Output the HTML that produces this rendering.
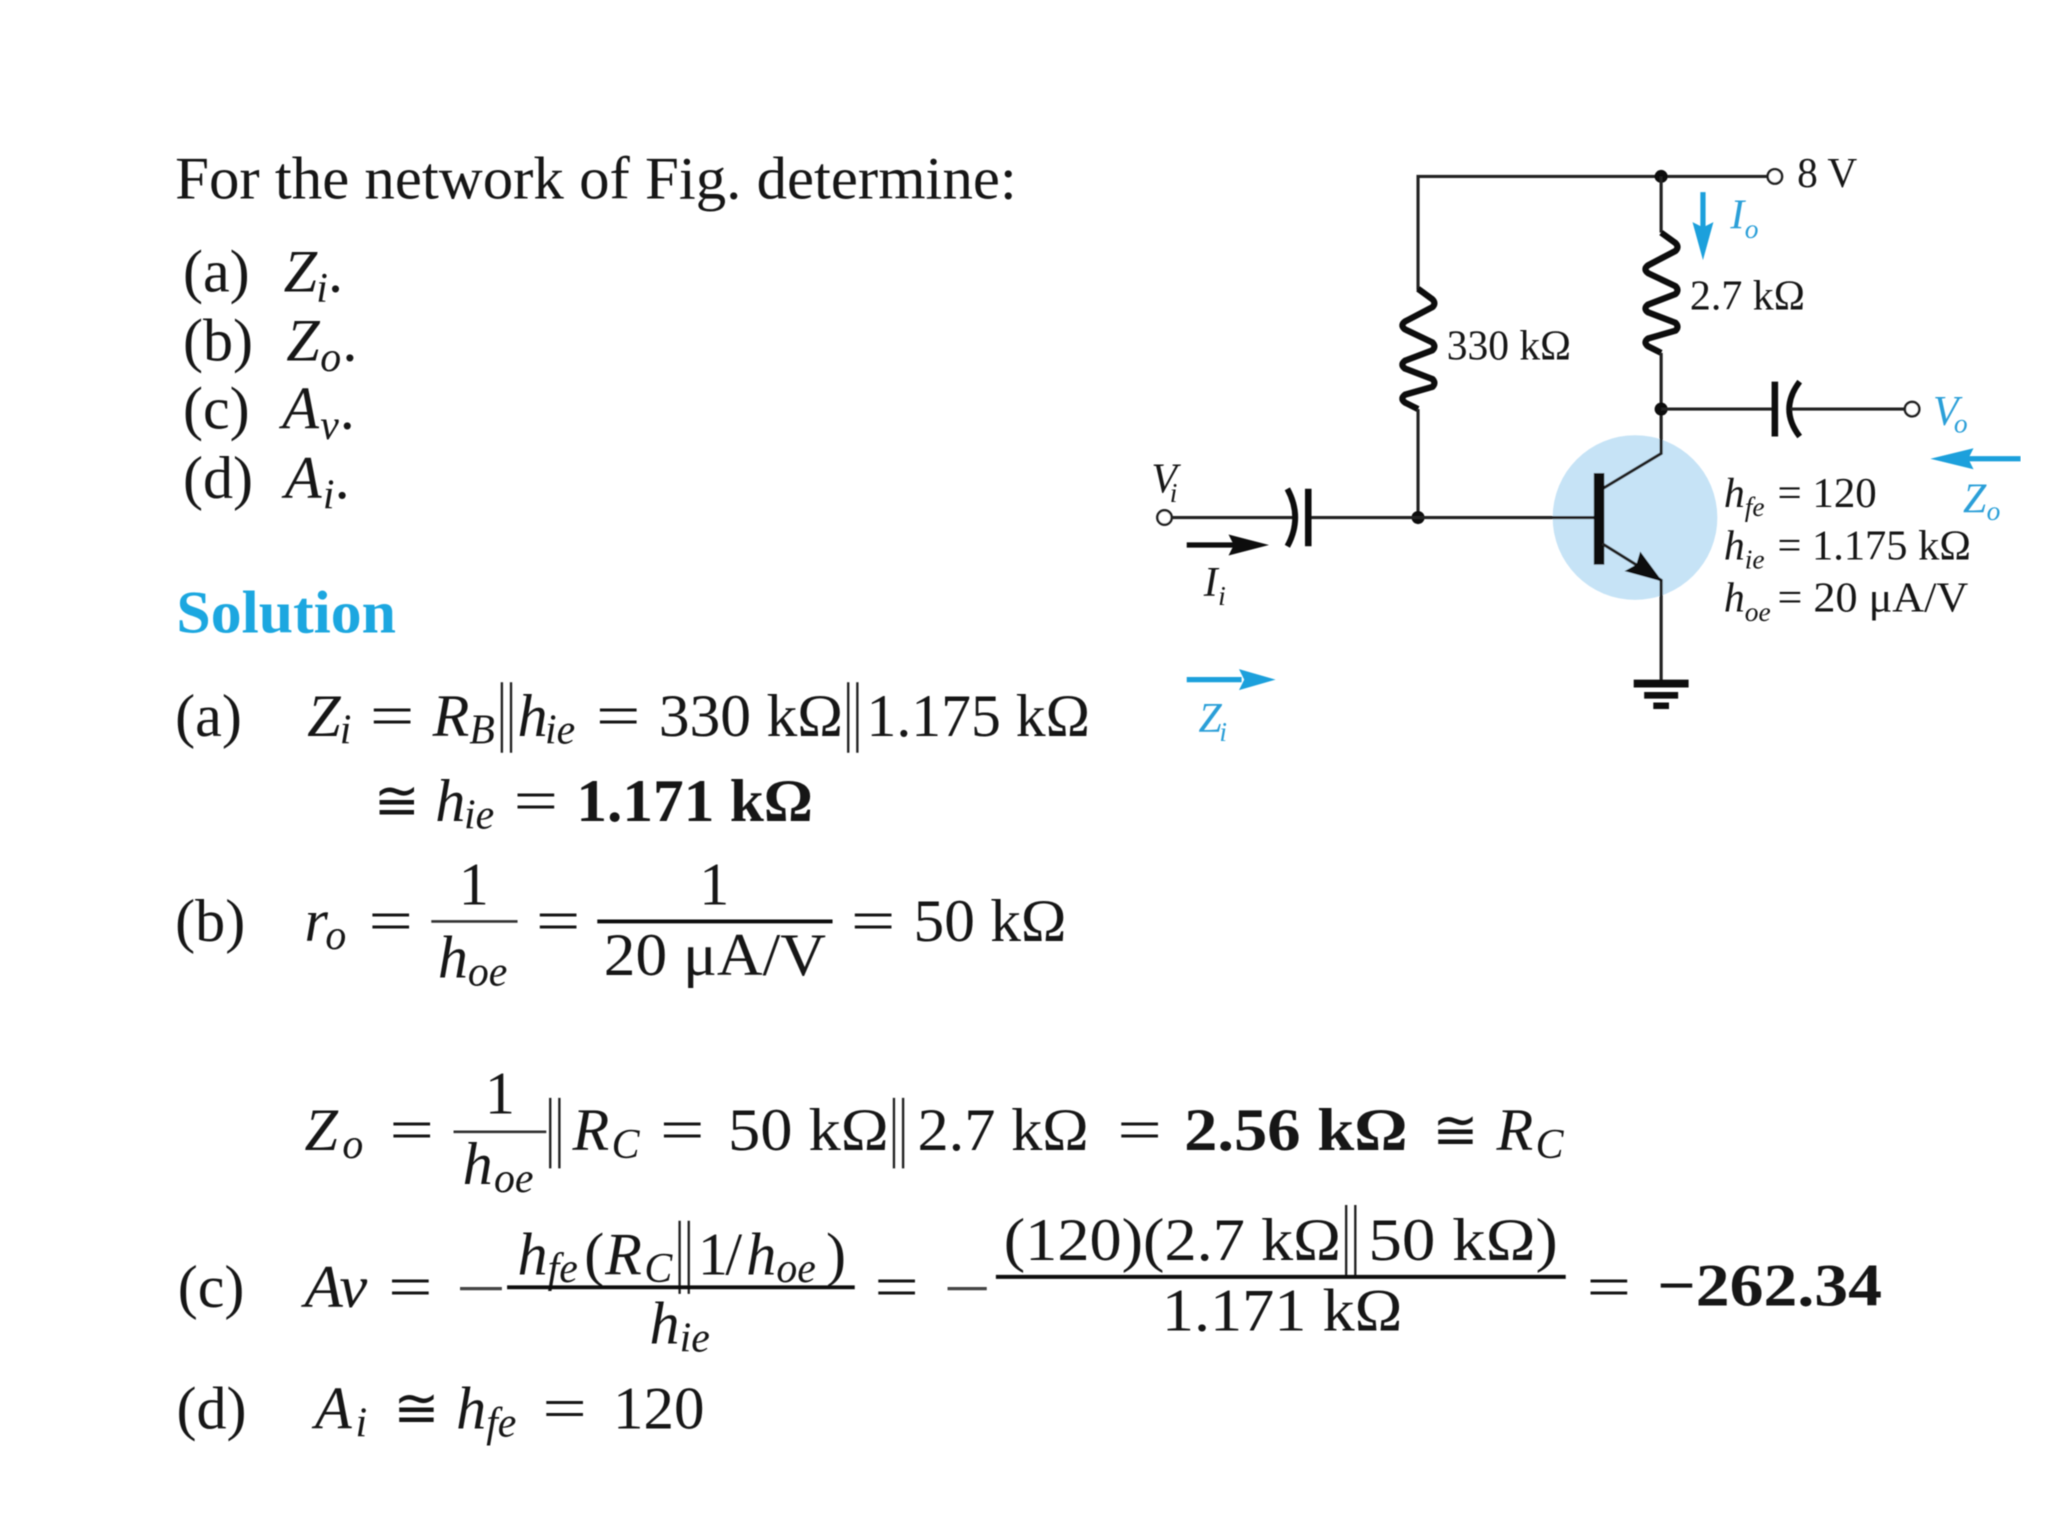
<!DOCTYPE html>
<html>
<head>
<meta charset="utf-8">
<style>
html,body{margin:0;padding:0;background:#fff}
svg{display:block}
text{font-family:"Liberation Serif",serif;fill:#141414}
.i{font-style:italic}
.b{font-weight:bold}
.m{font-size:46px;transform:translateY(-2px)}
.s{font-size:32px;transform:translateY(-2px)}
.c{font-size:32px}
.cs{font-size:21px}
.cy{fill:#2a9fd8}
.w{stroke:#222;stroke-width:2.4;fill:none}
.p{stroke:#222;stroke-width:1.8;fill:none}
.g{font-size:42px;transform:translateY(-2px)}
</style>
</head>
<body>
<svg xmlns="http://www.w3.org/2000/svg" width="2048" height="1536" viewBox="0 0 1567 1175.250">
<defs><filter id="bl" x="0" y="0" width="100%" height="100%"><feGaussianBlur stdDeviation="0.5"/></filter></defs>
<rect width="1567" height="1176" fill="#fff"/>
<g filter="url(#bl)">

<!-- Problem -->
<text class="m" x="134" y="154" textLength="644" lengthAdjust="spacingAndGlyphs">For the network of Fig. determine:</text>
<text class="m" x="140" y="225">(a)</text><text class="m i" x="217" y="225">Z</text><text class="s i" x="242" y="233">i</text><text class="m" x="251" y="225">.</text>
<text class="m" x="140" y="278">(b)</text><text class="m i" x="219" y="278">Z</text><text class="s i" x="245" y="286">o</text><text class="m" x="262" y="278">.</text>
<text class="m" x="140" y="330">(c)</text><text class="m i" x="216" y="330">A</text><text class="s i" x="245" y="338">v</text><text class="m" x="260" y="330">.</text>
<text class="m" x="140" y="383">(d)</text><text class="m i" x="218" y="383">A</text><text class="s i" x="247" y="391">i</text><text class="m" x="256" y="383">.</text>

<text class="m b" x="135" y="486" textLength="168" lengthAdjust="spacingAndGlyphs" style="fill:#1ba7e0">Solution</text>

<!-- (a) -->
<text class="m" x="134" y="565">(a)</text>
<text class="m i" x="235" y="565">Z</text><text class="s i" x="260" y="571">i</text>
<text class="m" x="283" y="565" textLength="34" lengthAdjust="spacingAndGlyphs">=</text>
<text class="m i" x="331" y="565">R</text><text class="s i" x="359" y="571">B</text>
<path class="p" d="M384 522V576M391 522V576"/>
<text class="m i" x="396" y="565">h</text><text class="s i" x="417" y="571">ie</text>
<text class="m" x="456" y="565" textLength="34" lengthAdjust="spacingAndGlyphs">=</text>
<text class="m" x="504" y="565" textLength="141" lengthAdjust="spacingAndGlyphs">330 kΩ</text>
<path class="p" d="M649 522V576M656 522V576"/>
<text class="m" x="663" y="565" textLength="171" lengthAdjust="spacingAndGlyphs">1.175 kΩ</text>

<text class="g" x="286" y="629">≅</text>
<text class="m i" x="333" y="630">h</text><text class="s i" x="355" y="636">ie</text>
<text class="m" x="393" y="630" textLength="34" lengthAdjust="spacingAndGlyphs">=</text>
<text class="m b" x="441" y="630" textLength="181" lengthAdjust="spacingAndGlyphs">1.171 kΩ</text>

<!-- (b) -->
<text class="m" x="134" y="722">(b)</text>
<text class="m i" x="233" y="722">r</text><text class="s i" x="249" y="728">o</text>
<text class="m" x="282" y="722" textLength="34" lengthAdjust="spacingAndGlyphs">=</text>
<text class="m" x="351" y="694">1</text>
<path d="M330 705H396" stroke="#333" stroke-width="2"/>
<text class="m i" x="335" y="750">h</text><text class="s i" x="358" y="756">oe</text>
<text class="m" x="410" y="722" textLength="34" lengthAdjust="spacingAndGlyphs">=</text>
<text class="m" x="535" y="694">1</text>
<path d="M457 705H637" stroke="#111" stroke-width="3"/>
<text class="m" x="462" y="748" textLength="170" lengthAdjust="spacingAndGlyphs">20 μA/V</text>
<text class="m" x="651" y="722" textLength="34" lengthAdjust="spacingAndGlyphs">=</text>
<text class="m" x="699" y="722" textLength="117" lengthAdjust="spacingAndGlyphs">50 kΩ</text>

<!-- Zo -->
<text class="m i" x="233" y="882">Z</text><text class="s i" x="262" y="888">o</text>
<text class="m" x="298" y="882" textLength="34" lengthAdjust="spacingAndGlyphs">=</text>
<text class="m" x="371" y="854">1</text>
<path d="M347 866H418" stroke="#333" stroke-width="2"/>
<text class="m i" x="354" y="908">h</text><text class="s i" x="378" y="914">oe</text>
<path class="p" d="M421 840V894M428 840V894"/>
<text class="m i" x="438" y="882">R</text><text class="s i" x="468" y="888">C</text>
<text class="m" x="505" y="882" textLength="34" lengthAdjust="spacingAndGlyphs">=</text>
<text class="m" x="557" y="882" textLength="123" lengthAdjust="spacingAndGlyphs">50 kΩ</text>
<path class="p" d="M684 840V894M691 840V894"/>
<text class="m" x="702" y="882" textLength="131" lengthAdjust="spacingAndGlyphs">2.7 kΩ</text>
<text class="m" x="855" y="882" textLength="34" lengthAdjust="spacingAndGlyphs">=</text>
<text class="m b" x="906" y="882" textLength="171" lengthAdjust="spacingAndGlyphs">2.56 kΩ</text>
<text class="g" x="1096" y="881">≅</text>
<text class="m i" x="1145" y="882">R</text><text class="s i" x="1175" y="888">C</text>

<!-- (c) -->
<text class="m" x="136" y="1002">(c)</text>
<text class="m i" x="233" y="1002" textLength="48" lengthAdjust="spacingAndGlyphs">Av</text>
<text class="m" x="297" y="1002" textLength="34" lengthAdjust="spacingAndGlyphs">=</text>
<path d="M352 986H384" stroke="#444" stroke-width="2.500"/>
<text class="m i" x="396" y="977">h</text><text class="s i" x="419" y="983">fe</text>
<text class="m" x="447" y="977">(</text><text class="m i" x="463" y="977">R</text><text class="s i" x="493" y="983">C</text>
<path class="p" d="M520 934V990M527 934V990"/>
<text class="m" x="534" y="977">1</text><text class="m" x="555" y="977">/</text><text class="m i" x="571" y="977">h</text><text class="s i" x="594" y="983">oe</text><text class="m" x="632" y="977">)</text>
<path d="M388 985H654" stroke="#111" stroke-width="3"/>
<text class="m i" x="497" y="1030">h</text><text class="s i" x="520" y="1036">ie</text>
<text class="m" x="669" y="1002" textLength="34" lengthAdjust="spacingAndGlyphs">=</text>
<path d="M725 986H755" stroke="#444" stroke-width="2.500"/>
<text class="m" x="768" y="966" textLength="258" lengthAdjust="spacingAndGlyphs">(120)(2.7 kΩ</text>
<path class="p" d="M1030 922V976M1037 922V976"/>
<text class="m" x="1047" y="966" textLength="145" lengthAdjust="spacingAndGlyphs">50 kΩ)</text>
<path d="M762 977H1198" stroke="#111" stroke-width="3"/>
<text class="m" x="889" y="1020" textLength="184" lengthAdjust="spacingAndGlyphs">1.171 kΩ</text>
<text class="m" x="1214" y="1002" textLength="34" lengthAdjust="spacingAndGlyphs">=</text>
<text class="m b" x="1268" y="1001" textLength="172" lengthAdjust="spacingAndGlyphs">−262.34</text>

<!-- (d) -->
<text class="m" x="135" y="1095">(d)</text>
<text class="m i" x="241" y="1095">A</text><text class="s i" x="272" y="1101">i</text>
<text class="g" x="301" y="1094">≅</text>
<text class="m i" x="349" y="1095">h</text><text class="s i" x="372" y="1101">fe</text>
<text class="m" x="415" y="1095" textLength="34" lengthAdjust="spacingAndGlyphs">=</text>
<text class="m" x="469" y="1095" textLength="70" lengthAdjust="spacingAndGlyphs">120</text>

<!-- Circuit -->
<circle cx="1251" cy="396" r="63" fill="#c6e3f6"/>
<path class="w" d="M1085 222V135H1352"/>
<circle cx="1358" cy="135" r="5.500" fill="#fff" stroke="#222" stroke-width="2"/>
<circle cx="1271" cy="135" r="5" fill="#111"/>
<path class="w" d="M1271 135V178"/>
<path d="M1085 221L1096 229Q1099 232 1096 235L1075 246Q1071 249 1075 252L1096 262Q1099 265 1096 268L1075 276Q1071 279 1075 282L1096 290Q1099 293 1096 296L1075 302Q1071 305 1075 308L1085 313" transform="translate(186,-43)" fill="none" stroke="#111" stroke-width="4.800" stroke-linejoin="round"/>
<path class="w" d="M1271 270V347L1226 374"/>
<circle cx="1271" cy="313" r="5" fill="#111"/>
<path class="w" d="M1271 313H1358"/>
<path d="M1358 292V334" stroke="#111" stroke-width="5"/>
<path d="M1377 292Q1361 313 1377 334" fill="none" stroke="#111" stroke-width="4.500"/>
<path class="w" d="M1370 313H1457"/>
<circle cx="1463" cy="313" r="5.500" fill="#fff" stroke="#222" stroke-width="2"/>

<path d="M1085 221L1096 229Q1099 232 1096 235L1075 246Q1071 249 1075 252L1096 262Q1099 265 1096 268L1075 276Q1071 279 1075 282L1096 290Q1099 293 1096 296L1075 302Q1071 305 1075 308L1085 313" fill="none" stroke="#111" stroke-width="4.800" stroke-linejoin="round"/>
<path class="w" d="M1085 313V396"/>
<circle cx="1085" cy="396" r="5" fill="#111"/>

<circle cx="891" cy="396" r="5.500" fill="#fff" stroke="#222" stroke-width="2"/>
<path class="w" d="M897 396H990M1003 396H1222"/>
<path d="M985 374Q997 396 985 418" fill="none" stroke="#111" stroke-width="4.500"/>
<path d="M1001 374V418" stroke="#111" stroke-width="5"/>

<path d="M1223.500 362V432" stroke="#111" stroke-width="8"/>
<path class="w" d="M1226 416L1271 444V522"/>
<path d="M1272 445L1255 422L1252 432L1243 437Z" fill="#111"/>
<path d="M1250 523H1292" stroke="#111" stroke-width="6"/>
<path d="M1258 532H1284" stroke="#111" stroke-width="5"/>
<path d="M1265 540H1277" stroke="#111" stroke-width="5"/>

<!-- Arrows -->
<path d="M1303 147V175" stroke="#1ba0dc" stroke-width="4"/>
<path d="M1303 199L1295 170L1303 174L1311 170Z" fill="#1ba0dc"/>
<path d="M1546 351H1505" stroke="#1ba0dc" stroke-width="4"/>
<path d="M1477 351L1510 343L1506 351L1510 359Z" fill="#1ba0dc"/>
<path d="M908 417H945" stroke="#111" stroke-width="4"/>
<path d="M971 417L940 409L944 417L940 425Z" fill="#111"/>
<path d="M908 520H950" stroke="#1ba0dc" stroke-width="4"/>
<path d="M976 520L948 512L952 520L948 528Z" fill="#1ba0dc"/>

<!-- Circuit labels -->
<text class="c" x="1375" y="143" textLength="46" lengthAdjust="spacingAndGlyphs">8 V</text>
<text class="c" x="1107" y="275" textLength="95" lengthAdjust="spacingAndGlyphs">330 kΩ</text>
<text class="c" x="1293" y="237" textLength="88" lengthAdjust="spacingAndGlyphs">2.7 kΩ</text>

<text class="c i cy" x="1324" y="175">I</text><text class="cs i cy" x="1335" y="182">o</text>
<text class="c i cy" x="1479" y="325">V</text><text class="cs i cy" x="1495" y="331">o</text>
<text class="c i cy" x="1502" y="392">Z</text><text class="cs i cy" x="1520" y="398">o</text>
<text class="c i" x="881" y="377">V</text><text class="cs i" x="895" y="384">i</text>
<text class="c i" x="921" y="456">I</text><text class="cs i" x="932" y="463">i</text>
<text class="c i cy" x="917" y="560">Z</text><text class="cs i cy" x="933" y="567">i</text>

<text class="c i" x="1319" y="388">h</text><text class="cs i" x="1335" y="395">fe</text>
<text class="c" x="1360" y="388" textLength="76" lengthAdjust="spacingAndGlyphs">= 120</text>
<text class="c i" x="1319" y="428">h</text><text class="cs i" x="1335" y="435">ie</text>
<text class="c" x="1360" y="428" textLength="148" lengthAdjust="spacingAndGlyphs">= 1.175 kΩ</text>
<text class="c i" x="1319" y="468">h</text><text class="cs i" x="1335" y="475">oe</text>
<text class="c" x="1360" y="468" textLength="146" lengthAdjust="spacingAndGlyphs">= 20 μA/V</text>
</g>
</svg>
</body>
</html>
